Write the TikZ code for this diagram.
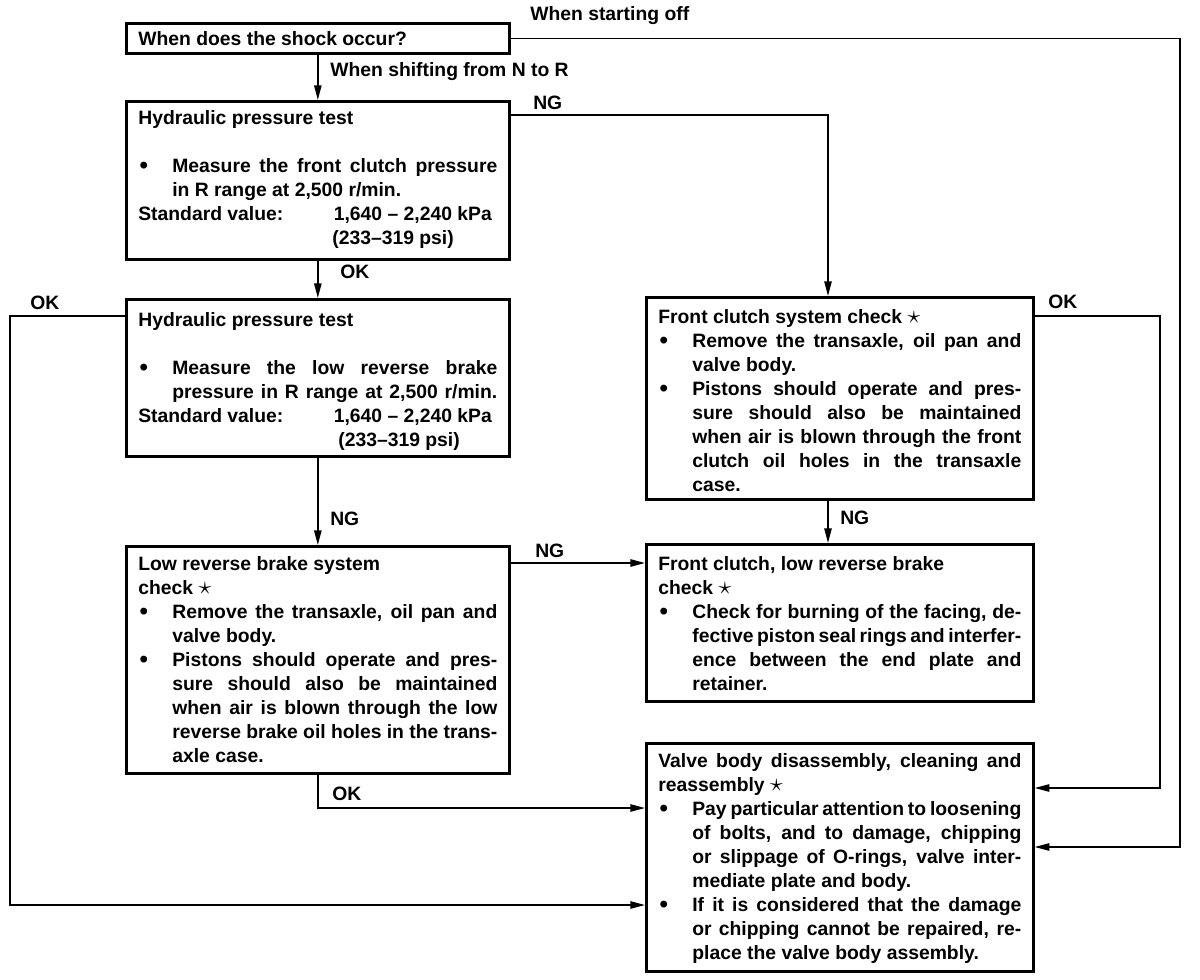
\documentclass[tikz,border=0pt]{standalone}
\usepackage{fontspec}
\setmainfont{Liberation Sans}
\usetikzlibrary{arrows.meta,calc}
\newlength\pxu \setlength\pxu{0.75pt}
\newlength\myind \setlength\myind{34\pxu}
\newcommand\LN[1]{\hbox to\hsize{\strut#1\hfil}}
\newcommand\JN[1]{\hbox to\hsize{\strut#1}}
\newcommand\ILN[1]{\hbox to\hsize{\strut\hskip\myind#1\hfil}}
\newcommand\IJN[1]{\hbox to\hsize{\strut\hskip\myind#1}}
\newcommand\BJN[1]{\hbox to\hsize{\strut\rlap{\hskip1pt\raisebox{-0.7pt}{\fontsize{18pt}{18pt}\selectfont\textbullet}}\hskip\myind#1}}
\newcommand\TGT[1]{{\spaceskip=0.06em plus 1em minus 0.03em\relax#1}}
\newcommand\BX[4]{\vbox to#2\pxu{\hsize=#1\pxu\relax\vskip#3\pxu\relax#4\vfil}}
\newcommand\STAR{\raisebox{-0.3pt}{\scalebox{1.35}{$\star$}}}
\begin{document}
\begin{tikzpicture}[x=0.75pt,y=-0.75pt,
  box/.style={draw, line width=2pt, inner xsep=9pt, inner ysep=0pt, anchor=north west,
    font=\fontsize{14.5pt}{18pt}\selectfont\bfseries},
  lbl/.style={inner sep=0pt, anchor=base west, font=\fontsize{14.5pt}{18pt}\selectfont\bfseries},
  arr/.style={line width=1.2pt, -{Triangle[length=11pt,width=5.5pt]}}]
\useasboundingbox (0,0) rectangle (1200,980);

\node[box] (q) at (125,22) {\BX{359}{30}{5}{\LN{When does the shock occur?}}};

\node[box] (hp1) at (125,100) {\BX{359}{158}{6}{%
 \LN{Hydraulic pressure test}
 \hbox{}
 \BJN{Measure the front clutch pressure}
 \ILN{in R range at 2,500 r/min.}
 \LN{\hbox to190\pxu{Standard value:\hfil}\hfil1,640 -- 2,240 kPa}
 \LN{\hskip194\pxu(233--319 psi)}}};

\node[box] (hp2) at (125,298) {\BX{359}{157}{10}{%
 \LN{Hydraulic pressure test}
 \hbox{}
 \BJN{Measure the low reverse brake}
 \IJN{pressure in R range at 2,500 r/min.}
 \LN{\hbox to190\pxu{Standard value:\hfil}\hfil1,640 -- 2,240 kPa}
 \LN{\hskip200\pxu(233--319 psi)}}};

\node[box] (lrb) at (125,545) {\BX{359}{227}{7}{%
 \LN{Low reverse brake system}
 \LN{check \STAR}
 \BJN{Remove the transaxle, oil pan and}
 \ILN{valve body.}
 \BJN{Pistons should operate and pres-}
 \IJN{sure should also be maintained}
 \IJN{when air is blown through the low}
 \IJN{reverse brake oil holes in the trans-}
 \ILN{axle case.}}};

\node[box] (fcs) at (645,296) {\BX{363}{202}{9}{%
 \LN{Front clutch system check \STAR}
 \BJN{Remove the transaxle, oil pan and}
 \ILN{valve body.}
 \BJN{Pistons should operate and pres-}
 \IJN{sure should also be maintained}
 \IJN{when air is blown through the front}
 \IJN{clutch oil holes in the transaxle}
 \ILN{case.}}};

\node[box] (fclrb) at (645,543) {\BX{363}{157}{9}{%
 \LN{Front clutch, low reverse brake}
 \LN{check \STAR}
 \BJN{Check for burning of the facing, de-}
 \IJN{\TGT{fective piston seal rings and interfer-}}
 \IJN{ence between the end plate and}
 \ILN{retainer.}}};

\node[box] (valve) at (645,742) {\BX{363}{228}{7}{%
 \JN{Valve body disassembly, cleaning and}
 \LN{reassembly \STAR}
 \BJN{\TGT{Pay particular attention to loosening}}
 \IJN{of bolts, and to damage, chipping}
 \IJN{or slippage of O-rings, valve inter-}
 \ILN{mediate plate and body.}
 \BJN{If it is considered that the damage}
 \IJN{or chipping cannot be repaired, re-}
 \ILN{place the valve body assembly.}}};

% connectors
\draw[arr] (q.south) -- (hp1.north);
\node[lbl] (l1) at (330,77) {When shifting from N to R};

\coordinate (c1) at (1180,847);
\draw[arr] (q.east) -| (c1) -- (c1 -| valve.east);
\node[lbl] (l0) at (530,21) {When starting off};

\coordinate (ngx) at (828,0);
\coordinate (a0) at ($(hp1.north east)+(0,15)$);
\draw[arr] (a0) -| (ngx |- fcs.north);
\node[lbl] (l2) at (533,110) {NG};

\draw[arr] (hp1.south) -- (hp2.north);
\node[lbl] (l3) at (340,279) {OK};

\coordinate (lx) at (10,905);
\coordinate (a2) at ($(hp2.north west)+(0,18)$);
\draw[arr] (a2) -| (lx) -- (lx -| valve.west);
\node[lbl] (l4) at (30,310) {OK};

\draw[arr] (hp2.south) -- (lrb.north);
\node[lbl] (l5) at (330,525) {NG};

\coordinate (a1) at ($(lrb.north east)+(0,18)$);
\draw[arr] (a1) -- (a1 -| fclrb.west);
\node[lbl] (l6) at (535,557) {NG};

\coordinate (ok2) at (0,808);
\draw[arr] (lrb.south) |- (ok2 -| valve.west);
\node[lbl] (l7) at (332,800) {OK};

\coordinate (rx2) at (1160,788);
\coordinate (a3) at ($(fcs.north east)+(0,20)$);
\draw[arr] (a3) -| (rx2) -- (rx2 -| valve.east);
\node[lbl] (l8) at (1048,309) {OK};

\draw[arr] (ngx |- fcs.south) -- (ngx |- fclrb.north);
\node[lbl] (l9) at (840,524) {NG};
\end{tikzpicture}
\end{document}
